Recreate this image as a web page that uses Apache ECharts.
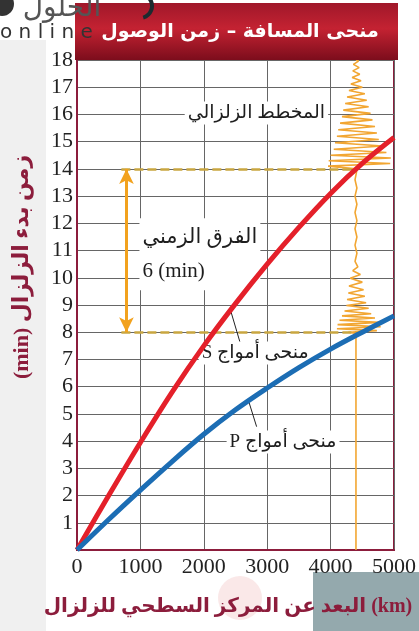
<!DOCTYPE html>
<html>
<head>
<meta charset="utf-8">
<script src="https://cdn.jsdelivr.net/npm/echarts@6/dist/echarts.min.js"></script>
<style>
html,body{margin:0;padding:0;background:#fff;}
#c{width:419px;height:631px;}
</style>
</head>
<body>
<div id="c"></div>
<script>
// ---- data ----
const distanceKm = [0, 500, 1000, 1500, 2000, 2500, 3000, 3500, 4000, 4500, 5000];
const sWaveMin   = [0, 2.0, 3.95, 5.8, 7.5, 9.05, 10.5, 11.85, 13.1, 14.2, 15.15];
const pWaveMin   = [0, 1.12, 2.2, 3.25, 4.25, 5.15, 5.95, 6.7, 7.38, 8.0, 8.6];
const xTicks = [0, 1000, 2000, 3000, 4000, 5000];
const yTicks = [1,2,3,4,5,6,7,8,9,10,11,12,13,14,15,16,17,18];
const stationKm = 4400;     // epicentral distance of the seismogram
const pArrivalMin = 8;      // P arrival
const sArrivalMin = 14;     // S arrival
const lagMin = 6;           // S-P difference
// seismogram trace: [horizontal swing in km, time in min]
const seismoTrace = [
  [0,0],[0,7.95],
  [-120,8.0],[330,8.06],[-300,8.13],[390,8.2],[-290,8.28],[360,8.36],[-260,8.44],[300,8.52],
  [-220,8.6],[240,8.68],[-180,8.78],[200,8.88],[-150,8.98],[160,9.08],[-140,9.2],[140,9.32],
  [-120,9.44],[120,9.56],[-110,9.7],[100,9.84],[-90,9.98],[70,10.12],[-50,10.26],[30,10.4],
  [-15,10.6],[15,10.9],[-15,11.2],[15,11.5],[-15,11.8],[15,12.1],[-15,12.4],[15,12.7],
  [-15,13.0],[15,13.3],[-15,13.6],[10,13.9],[0,14.0],
  [-440,14.1],[540,14.2],[-430,14.3],[550,14.4],[-400,14.5],[480,14.6],[-350,14.72],[420,14.84],
  [-330,14.96],[360,15.08],[-300,15.2],[330,15.32],[-280,15.44],[300,15.56],[-250,15.68],[260,15.8],
  [-220,15.92],[230,16.04],[-200,16.16],[200,16.28],[-170,16.4],[170,16.52],[-140,16.64],[140,16.76],
  [-110,16.88],[100,17.0],[-80,17.12],[80,17.24],[-60,17.36],[60,17.48],[-50,17.6],[50,17.72],
  [-40,17.84],[40,17.96],[0,18.0]
];

const sData = distanceKm.map((d, i) => [d, sWaveMin[i]]);
const pData = distanceKm.map((d, i) => [d, pWaveMin[i]]);
const seismoData = seismoTrace.map(p => [stationKm + p[0], p[1]]);

const SERIF = '"Liberation Serif","DejaVu Serif","DejaVu Sans",serif';
const AR = '"DejaVu Sans","Noto Sans",sans-serif';
const MAROON = '#8c1d3c';

const chart = echarts.init(document.getElementById('c'), null, {renderer: 'canvas'});

const lbl = (text, extra) => Object.assign({
  show: true, position: 'inside', formatter: text,
  fontFamily: SERIF + ',' + AR, fontSize: 19, color: '#1e1e1e',
  backgroundColor: '#fff', padding: [2, 3]
}, extra || {});

chart.setOption({
  animation: false,
  backgroundColor: '#fff',
  grid: {left: 77, right: 22, top: 60, bottom: 81, show: true, borderColor: MAROON, borderWidth: 2, backgroundColor: '#fff'},
  xAxis: {
    type: 'value', min: 0, max: 5000, interval: 1000,
    axisLine: {show: true, lineStyle: {color: MAROON, width: 2}},
    axisTick: {show: false},
    splitLine: {show: true, lineStyle: {color: '#666', width: 1}},
    axisLabel: {
      margin: 6, fontFamily: SERIF, fontSize: 22, color: '#222',
      formatter: v => xTicks.includes(v) ? String(v) : ''
    }
  },
  yAxis: {
    type: 'value', min: 0, max: 18, interval: 1,
    axisLine: {show: true, lineStyle: {color: MAROON, width: 2}},
    axisTick: {show: false},
    splitLine: {show: true, lineStyle: {color: '#666', width: 1}},
    axisLabel: {
      margin: 4, fontFamily: SERIF, fontSize: 22, color: '#222',
      formatter: v => yTicks.includes(v) ? String(v) : ''
    }
  },
  series: [
    {
      name: 'seismogram', type: 'line', data: seismoData, symbol: 'none', z: 3,
      lineStyle: {color: '#f2a632', width: 1.6}, silent: true,
      markLine: {
        silent: true, symbol: 'none', animation: false,
        lineStyle: {color: '#c9a640', width: 2.5, type: [9, 4]},
        label: {show: false},
        data: [
          [{coord: [700, pArrivalMin]}, {coord: [stationKm, pArrivalMin]}],
          [{coord: [700, sArrivalMin]}, {coord: [stationKm, sArrivalMin]}]
        ]
      }
    },
    {
      name: 'S', type: 'line', data: sData, smooth: 0.35, symbol: 'none', z: 5,
      lineStyle: {color: '#e4202a', width: 5}, silent: true,
      markLine: {
        silent: true, symbol: 'none', animation: false,
        lineStyle: {color: '#222', width: 1, type: 'solid'}, label: {show: false},
        data: [[{coord: [2420, 8.82]}, {coord: [2575, 7.6]}]]
      }
    },
    {
      name: 'P', type: 'line', data: pData, smooth: 0.35, symbol: 'none', z: 5,
      lineStyle: {color: '#1c6db4', width: 5}, silent: true,
      markLine: {
        silent: true, symbol: 'none', animation: false,
        lineStyle: {color: '#222', width: 1, type: 'solid'}, label: {show: false},
        data: [[{coord: [2703, 5.5]}, {coord: [2833, 4.53]}]]
      }
    },
    {
      name: 'annotations', type: 'line', data: [], z: 6, silent: true,
      markLine: {
        silent: true, animation: false, symbol: ['arrow', 'arrow'], symbolSize: [11, 15],
        lineStyle: {color: '#f2a21e', width: 3, type: 'solid'}, label: {show: false},
        data: [[{coord: [780, pArrivalMin]}, {coord: [780, pArrivalMin + lagMin]}]]
      },
      markPoint: {
        silent: true, animation: false, symbol: 'circle', symbolSize: 0,
        data: [
          {coord: [2830, 16.05], label: lbl('المخطط الزلزالي', {fontSize: 19})},
          {coord: [985, 10.86], label: lbl('الفرق الزمني\n' + lagMin + ' (min)', {align: 'left', fontSize: 21, lineHeight: 34})},
          {coord: [1920, 7.24], label: lbl('S منحى أمواج', {align: 'left'})},
          {coord: [2360, 3.97], label: lbl('P منحى أمواج', {align: 'left'})}
        ]
      }
    }
  ],
  graphic: [
    {type: 'rect', z: -10, shape: {x: 0, y: 40, width: 46, height: 591}, style: {fill: '#f0f0f0'}},
    {type: 'rect', z: -10, shape: {x: 313, y: 572, width: 106, height: 59}, style: {fill: '#94a9ad'}},
    {type: 'circle', z: -10, shape: {cx: 240, cy: 598, r: 22}, style: {fill: 'rgba(240,190,190,0.35)'}},
    {type: 'rect', z: 100, shape: {x: 75, y: 3, width: 323, height: 57},
      style: {fill: new echarts.graphic.LinearGradient(0, 0, 0, 1, [
        {offset: 0, color: '#a0182a'}, {offset: 0.45, color: '#c42232'}, {offset: 1, color: '#7c0d1c'}])}},
    {type: 'text', z: 101, x: 240, y: 32,
      style: {text: 'منحى المسافة – زمن الوصول', fill: '#fff', font: 'bold 19px ' + AR, textAlign: 'center', textVerticalAlign: 'middle'}},
    {type: 'text', z: 50, x: 22, y: 267, rotation: Math.PI / 2,
      style: {text: '(min) زمن بدء الزلزال', fill: MAROON, font: 'bold 22px ' + SERIF + ',' + AR, textAlign: 'center', textVerticalAlign: 'middle'}},
    {type: 'text', z: 50, x: 228, y: 607,
      style: {text: 'البعد عن المركز السطحي للزلزال (km)', fill: MAROON, font: 'bold 20px ' + SERIF + ',' + AR, textAlign: 'center', textVerticalAlign: 'middle'}},
    // watermark
    {type: 'circle', z: 102, shape: {cx: 2, cy: 4, r: 12}, style: {fill: '#333'}},
    {type: 'text', z: 102, x: 62, y: 9,
      style: {text: 'الحلول', fill: '#555', font: '28px ' + AR, textAlign: 'center', textVerticalAlign: 'middle'}},
    {type: 'text', z: 102, x: 0, y: 33,
      style: {text: 'o n l i n e', fill: '#333', font: '20px "DejaVu Sans",sans-serif', textAlign: 'left', textVerticalAlign: 'middle'}},
    {type: 'arc', z: 102, shape: {cx: 140, cy: 6, r: 12, startAngle: -1.2, endAngle: 1.3}, style: {stroke: '#1d2b30', lineWidth: 4, fill: 'none'}}
  ]
});
</script>
</body>
</html>
